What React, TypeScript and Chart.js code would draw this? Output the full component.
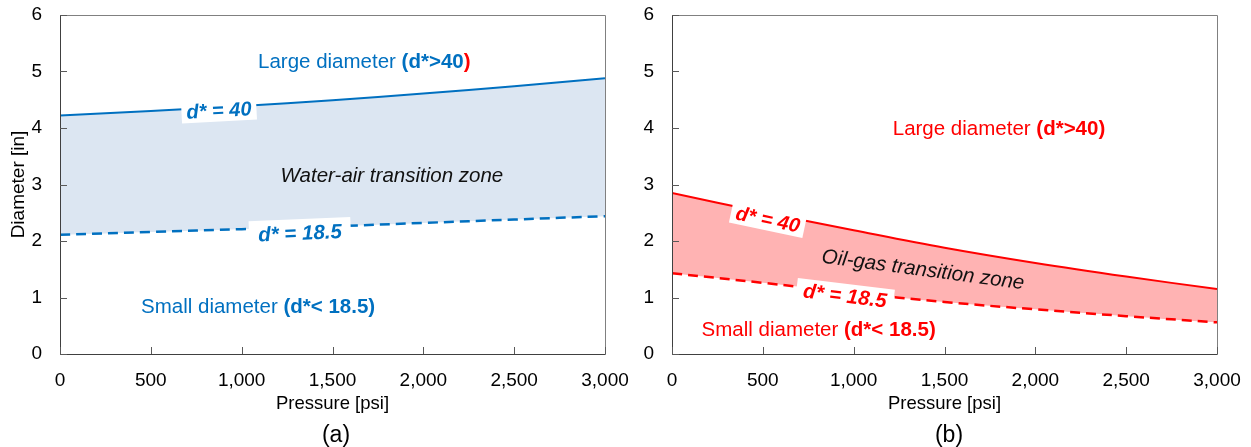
import React, { useEffect, useRef } from 'react';
import { Chart, registerables } from 'chart.js';

Chart.register(...registerables);

// ---------- data ----------
const pressure = [0, 500, 1000, 1500, 2000, 2500, 3000];
const waterAirD40 = [4.22, 4.3, 4.39, 4.49, 4.61, 4.74, 4.88];
const waterAirD185 = [2.11, 2.16, 2.21, 2.26, 2.32, 2.38, 2.44];
const oilGasD40 = [2.85, 2.51, 2.19, 1.88, 1.61, 1.37, 1.15];
const oilGasD185 = [1.43, 1.26, 1.08, 0.92, 0.79, 0.67, 0.56];
const xTickValues = [0, 500, 1000, 1500, 2000, 2500, 3000];
const yTickValues = [0, 1, 2, 3, 4, 5, 6];
const xTitle = 'Pressure [psi]';
const yTitle = 'Diameter [in]';

const BLUE = '#0070c0';
const RED = '#ff0000';
const BLUE_FILL = '#dce6f2';
const RED_FILL = '#ffb3b3';
const FONT = '"Liberation Sans", Arial, sans-serif';

type Seg = { t: string; bold?: boolean; italic?: boolean; color: string };
type Note = {
  x: number;
  y: number;
  segs: Seg[];
  align: 'left' | 'center';
  rot: number;
  size: number;
  box?: { padX: number; h: number };
};

const waterAirNotes: Note[] = [
  {
    x: 1090, y: 5.06, align: 'left', rot: 0, size: 20.5,
    segs: [
      { t: 'Large diameter ', color: BLUE },
      { t: '(d*>40', bold: true, color: BLUE },
      { t: ')', bold: true, color: RED },
    ],
  },
  {
    x: 446, y: 0.72, align: 'left', rot: 0, size: 20.5,
    segs: [
      { t: 'Small diameter ', color: BLUE },
      { t: '(d*< 18.5)', bold: true, color: BLUE },
    ],
  },
  {
    x: 1827, y: 3.17, align: 'center', rot: 0, size: 20.5,
    segs: [{ t: 'Water-air transition zone', italic: true, color: '#111' }],
  },
  {
    x: 875, y: 4.31, align: 'center', rot: -3, size: 20,
    box: { padX: 5, h: 22 },
    segs: [{ t: 'd* = 40', bold: true, italic: true, color: BLUE }],
  },
  {
    x: 1321, y: 2.14, align: 'center', rot: -2.5, size: 20.5,
    box: { padX: 9, h: 28 },
    segs: [{ t: 'd* = 18.5', bold: true, italic: true, color: BLUE }],
  },
];

const oilGasNotes: Note[] = [
  {
    x: 1215, y: 3.88, align: 'left', rot: 0, size: 20.5,
    segs: [
      { t: 'Large diameter ', color: RED },
      { t: '(d*>40)', bold: true, color: RED },
    ],
  },
  {
    x: 163, y: 0.32, align: 'left', rot: 0, size: 20.5,
    segs: [
      { t: 'Small diameter ', color: RED },
      { t: '(d*< 18.5)', bold: true, color: RED },
    ],
  },
  {
    x: 1382, y: 1.5, align: 'center', rot: 7.5, size: 20.5,
    segs: [{ t: 'Oil-gas transition zone', italic: true, color: '#111' }],
  },
  {
    x: 528, y: 2.38, align: 'center', rot: 12, size: 20,
    box: { padX: 5, h: 22 },
    segs: [{ t: 'd* = 40', bold: true, italic: true, color: RED }],
  },
  {
    x: 952, y: 1.03, align: 'center', rot: 7, size: 20.5,
    box: { padX: 7, h: 24 },
    segs: [{ t: 'd* = 18.5', bold: true, italic: true, color: RED }],
  },
];

const fontOf = (s: Seg, size: number) =>
  `${s.italic ? 'italic ' : ''}${s.bold ? 'bold ' : ''}${size}px ${FONT}`;

function makeNotesPlugin(notes: Note[]) {
  return {
    id: 'notes',
    afterDatasetsDraw(chart: any) {
      const { ctx, scales } = chart;
      ctx.save();
      for (const n of notes) {
        const px = scales.x.getPixelForValue(n.x);
        const py = scales.y.getPixelForValue(n.y);
        const widths = n.segs.map((s) => {
          ctx.font = fontOf(s, n.size);
          return ctx.measureText(s.t).width;
        });
        const total = widths.reduce((a, b) => a + b, 0);
        ctx.save();
        ctx.translate(px, py);
        ctx.rotate((n.rot * Math.PI) / 180);
        let x0 = n.align === 'center' ? -total / 2 : 0;
        if (n.box) {
          ctx.fillStyle = '#ffffff';
          ctx.fillRect(x0 - n.box.padX, -n.box.h / 2, total + 2 * n.box.padX, n.box.h);
        }
        ctx.textAlign = 'left';
        ctx.textBaseline = n.align === 'center' ? 'middle' : 'alphabetic';
        n.segs.forEach((s, i) => {
          ctx.font = fontOf(s, n.size);
          ctx.fillStyle = s.color;
          ctx.fillText(s.t, x0, n.align === 'center' ? 1 : 0);
          x0 += widths[i];
        });
        ctx.restore();
      }
      ctx.restore();
    },
  };
}

const framePlugin = {
  id: 'frame',
  afterDraw(chart: any) {
    const { ctx, chartArea: a, scales } = chart;
    ctx.save();
    ctx.lineWidth = 1;
    ctx.strokeStyle = '#808080';
    ctx.beginPath();
    ctx.moveTo(Math.round(a.left) + 0.5, Math.round(a.top) + 0.5);
    ctx.lineTo(Math.round(a.right) + 0.5, Math.round(a.top) + 0.5);
    ctx.lineTo(Math.round(a.right) + 0.5, Math.round(a.bottom) + 0.5);
    ctx.stroke();
    ctx.strokeStyle = '#404040';
    ctx.beginPath();
    ctx.moveTo(Math.round(a.left) + 0.5, Math.round(a.top) + 0.5);
    ctx.lineTo(Math.round(a.left) + 0.5, Math.round(a.bottom) + 0.5);
    ctx.lineTo(Math.round(a.right) + 0.5, Math.round(a.bottom) + 0.5);
    ctx.stroke();
    // inward tick marks
    ctx.strokeStyle = '#595959';
    ctx.beginPath();
    for (const v of yTickValues) {
      const y = Math.round(scales.y.getPixelForValue(v)) + 0.5;
      ctx.moveTo(Math.round(a.left), y);
      ctx.lineTo(Math.round(a.left) + 7, y);
    }
    for (const v of xTickValues) {
      const x = Math.round(scales.x.getPixelForValue(v)) + 0.5;
      ctx.moveTo(x, Math.round(a.bottom));
      ctx.lineTo(x, Math.round(a.bottom) - 7);
    }
    ctx.stroke();
    ctx.restore();
  },
};

type PanelProps = {
  width: number;
  upper: number[];
  lower: number[];
  color: string;
  fill: string;
  notes: Note[];
  yAxisWidth: number;
  showYTitle: boolean;
};

function Panel({ width, upper, lower, color, fill, notes, yAxisWidth, showYTitle }: PanelProps) {
  const ref = useRef<HTMLCanvasElement>(null);
  useEffect(() => {
    if (!ref.current) return;
    const tickFont = { family: FONT, size: 19 };
    const chart = new Chart(ref.current, {
      type: 'line',
      data: {
        datasets: [
          {
            label: 'd* = 40',
            data: pressure.map((p, i) => ({ x: p, y: upper[i] })),
            borderColor: color,
            borderWidth: 2,
            backgroundColor: fill,
            fill: '+1',
            pointRadius: 0,
            tension: 0.35,
          },
          {
            label: 'd* = 18.5',
            data: pressure.map((p, i) => ({ x: p, y: lower[i] })),
            borderColor: color,
            borderWidth: 2.5,
            borderDash: [10, 6],
            fill: false,
            pointRadius: 0,
            tension: 0.35,
          },
        ],
      },
      options: {
        responsive: false,
        animation: false,
        layout: { padding: { left: 0, right: width - yAxisWidth - 545, top: 15, bottom: 0 } },
        plugins: {
          legend: { display: false },
          tooltip: { enabled: false },
          filler: { drawTime: 'beforeDatasetsDraw' },
        },
        scales: {
          x: {
            type: 'linear',
            min: 0,
            max: 3000,
            afterBuildTicks: (s: any) => {
              s.ticks = xTickValues.map((v) => ({ value: v }));
            },
            afterFit: (s: any) => {
              s.height = 447 - 15 - 339;
            },
            grid: { display: false, drawTicks: true, tickLength: 15 },
            border: { display: false },
            ticks: {
              font: tickFont,
              color: '#000',
              padding: 0,
              maxRotation: 0,
              callback: (v: any) => Number(v).toLocaleString('en-US'),
            },
            title: {
              display: true,
              text: xTitle,
              color: '#000',
              font: { family: FONT, size: 18.5 },
              padding: { top: 0, bottom: 32 },
            },
          },
          y: {
            type: 'linear',
            min: 0,
            max: 6,
            afterBuildTicks: (s: any) => {
              s.ticks = yTickValues.map((v) => ({ value: v }));
            },
            afterFit: (s: any) => {
              s.width = yAxisWidth;
            },
            grid: { display: false, drawTicks: true, tickLength: 18 },
            border: { display: false },
            ticks: { font: tickFont, color: '#000', padding: 0 },
            title: {
              display: showYTitle,
              text: yTitle,
              color: '#000',
              font: { family: FONT, size: 19 },
              padding: { top: 7, bottom: 0 },
            },
          },
        },
      },
      plugins: [makeNotesPlugin(notes), framePlugin],
    } as any);
    return () => chart.destroy();
  }, []);
  return <canvas ref={ref} width={width} height={447} style={{ display: 'block' }} />;
}

export default function App() {
  const captionStyle: React.CSSProperties = {
    position: 'absolute',
    top: 421,
    width: 200,
    textAlign: 'center',
    font: `23px ${FONT}`,
    lineHeight: '26px',
    color: '#000',
  };
  return (
    <div style={{ position: 'absolute', left: 0, top: 0, width: 1251, height: 447, background: '#fff' }}>
      <div style={{ position: 'absolute', left: 0, top: 0 }}>
        <Panel
          width={636}
          upper={waterAirD40}
          lower={waterAirD185}
          color={BLUE}
          fill={BLUE_FILL}
          notes={waterAirNotes}
          yAxisWidth={60}
          showYTitle={true}
        />
      </div>
      <div style={{ position: 'absolute', left: 636, top: 0 }}>
        <Panel
          width={615}
          upper={oilGasD40}
          lower={oilGasD185}
          color={RED}
          fill={RED_FILL}
          notes={oilGasNotes}
          yAxisWidth={36}
          showYTitle={false}
        />
      </div>
      <div style={{ ...captionStyle, left: 236 }}>(a)</div>
      <div style={{ ...captionStyle, left: 849 }}>(b)</div>
    </div>
  );
}
